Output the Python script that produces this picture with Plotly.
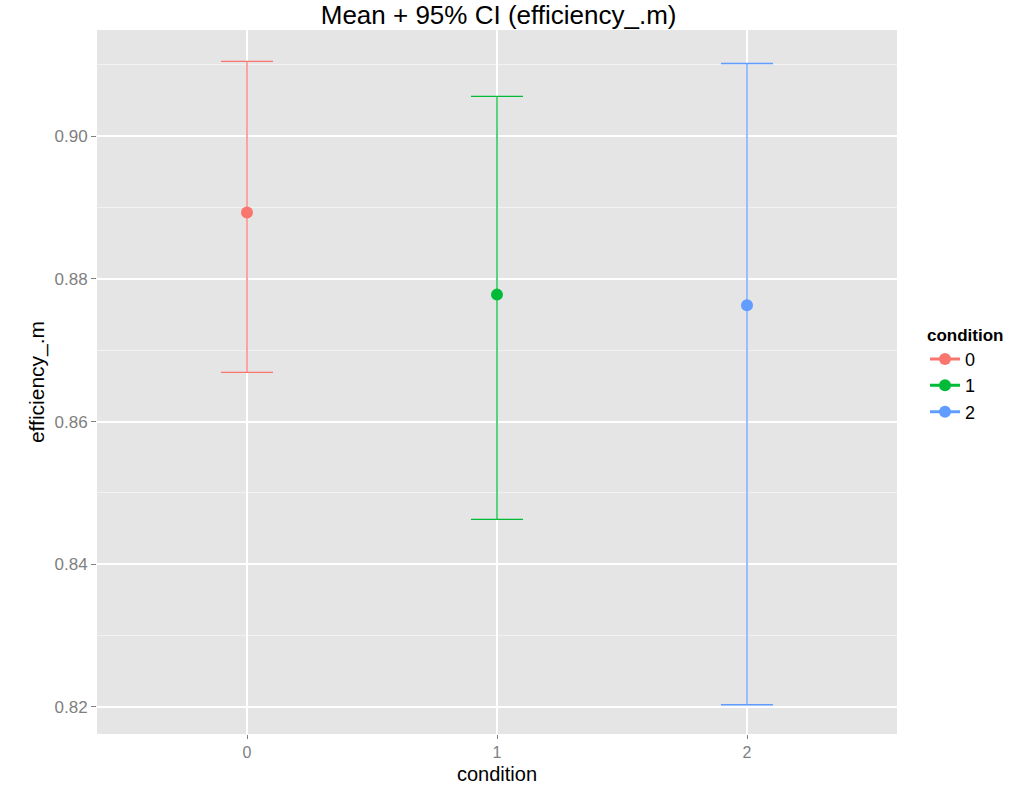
import plotly.graph_objects as go

# Group means and 95% confidence limits of efficiency_.m per condition
conditions = ["0", "1", "2"]
means = [0.8893, 0.8778, 0.8763]
ci_lower = [0.8669, 0.8463, 0.8203]
ci_upper = [0.9105, 0.9056, 0.9102]
colors = ["#F8766D", "#00BA38", "#619CFF"]

fig = go.Figure()
for i, cond in enumerate(conditions):
    fig.add_trace(go.Scatter(
        x=[i], y=[means[i]],
        mode="lines+markers",
        name=cond,
        marker=dict(color=colors[i], size=12),
        line=dict(color=colors[i], width=3),
        error_y=dict(
            type="data", symmetric=False,
            array=[ci_upper[i] - means[i]],
            arrayminus=[means[i] - ci_lower[i]],
            color=colors[i], thickness=1.3, width=26,
        ),
    ))

font_family = "Liberation Sans, Arial, sans-serif"

fig.update_layout(
    width=1027, height=786,
    margin=dict(l=97, r=130, t=30, b=52, autoexpand=False),
    paper_bgcolor="white",
    plot_bgcolor="#E5E5E5",
    font=dict(family=font_family, color="black"),
    title=dict(text="Mean + 95% CI (efficiency_.m)", x=0.4855, xanchor="center",
               y=0.992, yanchor="top", font=dict(size=26, color="black")),
    showlegend=True,
    legend=dict(
        title=dict(text="<b>condition</b>", font=dict(size=17)),
        x=1.035, xanchor="left", y=0.59, yanchor="top",
        font=dict(size=18), bgcolor="white",
        itemwidth=30, tracegroupgap=4,
    ),
    annotations=[dict(
        text="condition", xref="paper", yref="paper",
        x=0.5, y=-52 / 704, xanchor="center", yanchor="bottom",
        showarrow=False, font=dict(size=20, color="black"), borderpad=0,
    )],
)

fig.update_xaxes(
    range=[-0.6, 2.6], automargin=False,
    tickmode="array", tickvals=[0, 1, 2], ticktext=conditions,
    showgrid=True, gridcolor="white", gridwidth=1.5,
    zeroline=False, showline=False,
    ticks="outside", ticklen=4, tickcolor="#7F7F7F", tickwidth=1.2,
    tickfont=dict(size=16, color="#7F7F7F"),
)

fig.update_yaxes(
    range=[0.8162, 0.9149], automargin=False,
    tickmode="array", tickvals=[0.82, 0.84, 0.86, 0.88, 0.90],
    ticktext=["0.82", "0.84", "0.86", "0.88", "0.90"],
    showgrid=True, gridcolor="white", gridwidth=1.5,
    minor=dict(tickmode="array", tickvals=[0.83, 0.85, 0.87, 0.89, 0.91],
               showgrid=True, gridcolor="#F2F2F2", gridwidth=1, ticks=""),
    zeroline=False, showline=False,
    ticks="outside", ticklen=5, tickcolor="#7F7F7F", tickwidth=1.2,
    tickfont=dict(size=17, color="#7F7F7F"),
    title=dict(text="efficiency_.m", font=dict(size=21, color="black"), standoff=4),
)

fig.write_html("out.html")
